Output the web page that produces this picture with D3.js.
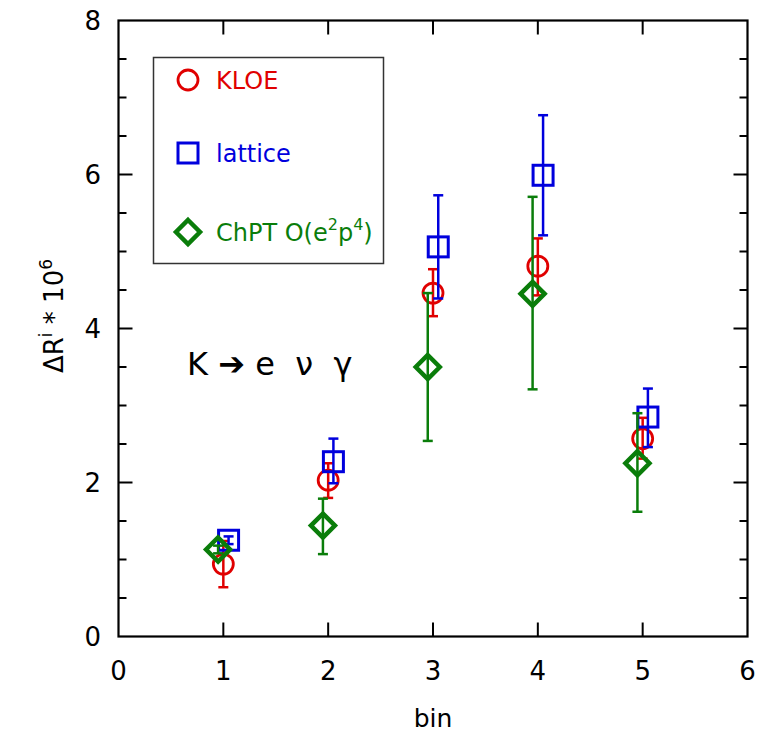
<!DOCTYPE html>
<html>
<head>
<meta charset="utf-8">
<style>
  body { margin: 0; background: #fff; }
  svg text { font-family: "DejaVu Sans", "Lucida Grande", sans-serif; }
</style>
</head>
<body>
<svg id="chart" width="767" height="735"></svg>
<script src="https://d3js.org/d3.v7.min.js"></script>
<script>
// data
var bins = [1, 2, 3, 4, 5];

var kloe      = [0.94, 2.03, 4.46, 4.81, 2.57];
var kloeLo    = [0.64, 1.80, 4.16, 4.43, 2.31];
var kloeHi    = [1.24, 2.25, 4.77, 5.17, 2.84];

var lattice   = [1.25, 2.27, 5.06, 5.99, 2.85];
var latticeLo = [1.20, 1.99, 4.39, 5.21, 2.46];
var latticeHi = [1.30, 2.57, 5.73, 6.77, 3.22];

var chpt      = [1.13, 1.44, 3.50, 4.45, 2.25];
var chptLo    = [1.08, 1.07, 2.54, 3.21, 1.62];
var chptHi    = [1.18, 1.79, 4.46, 5.71, 2.90];

var xTicks = [0, 1, 2, 3, 4, 5, 6];
var yTicks = [0, 2, 4, 6, 8];
var yMinor = d3.range(0, 8.01, 0.5);

var series = [
  {name: "KLOE",    color: "#e00000", shape: "circle",  dx: 0,     v: kloe,    lo: kloeLo,    hi: kloeHi},
  {name: "lattice", color: "#0000dd", shape: "square",  dx: 0.05,  v: lattice, lo: latticeLo, hi: latticeHi},
  {name: "ChPT",    color: "#0a7d0a", shape: "diamond", dx: -0.05, v: chpt,    lo: chptLo,    hi: chptHi}
];

var plotL = 118.5, plotR = 747.5, plotT = 20.5, plotB = 636.5;

var x = d3.scaleLinear().domain([0, 6]).range([plotL, plotR]);
var y = d3.scaleLinear().domain([0, 8]).range([plotB, plotT]);

var svg = d3.select("#chart");

// frame
svg.append("rect")
    .attr("x", plotL).attr("y", plotT)
    .attr("width", plotR - plotL).attr("height", plotB - plotT)
    .attr("fill", "none").attr("stroke", "#000").attr("stroke-width", 2.2);

// ticks on all sides, pointing in
var axes = svg.append("g").attr("stroke", "#000").attr("stroke-width", 2);
xTicks.slice(1, -1).forEach(function(t) {
  axes.append("line").attr("x1", x(t)).attr("x2", x(t)).attr("y1", plotB).attr("y2", plotB - 14);
  axes.append("line").attr("x1", x(t)).attr("x2", x(t)).attr("y1", plotT).attr("y2", plotT + 14);
});
yMinor.slice(1, -1).forEach(function(t) {
  var len = (t % 2 === 0) ? 14 : 8;
  axes.append("line").attr("x1", plotL).attr("x2", plotL + len).attr("y1", y(t)).attr("y2", y(t));
  axes.append("line").attr("x1", plotR).attr("x2", plotR - len).attr("y1", y(t)).attr("y2", y(t));
});

// tick labels
svg.selectAll(".xl").data(xTicks).enter().append("text")
    .attr("x", function(d) { return x(d); })
    .attr("y", 680)
    .attr("text-anchor", "middle")
    .style("font-size", "26px")
    .text(function(d) { return d; });

svg.selectAll(".yl").data(yTicks).enter().append("text")
    .attr("x", 101)
    .attr("y", function(d) { return y(d) + 9; })
    .attr("text-anchor", "end")
    .style("font-size", "26px")
    .text(function(d) { return d; });

// axis titles
svg.append("text")
    .attr("x", x(3)).attr("y", 727)
    .attr("text-anchor", "middle").style("font-size", "25px")
    .text("bin");

var yt = svg.append("text")
    .attr("transform", "translate(63,316) rotate(-90)")
    .attr("text-anchor", "middle").style("font-size", "26px");
yt.append("tspan").text("\u0394R");
yt.append("tspan").style("font-size", "17px").attr("dy", -11).text("i");
yt.append("tspan").attr("dy", 11).text(" * 10");
yt.append("tspan").style("font-size", "17px").attr("dy", -11).text("6");

// K -> e nu gamma
svg.append("text")
    .attr("x", 187).attr("y", 375)
    .style("font-size", "32px")
    .style("white-space", "pre")
    .text("K \u2794 e  \u03bd  \u03b3");

// markers
function drawMarker(g, shape, color, cx, cy) {
  if (shape === "circle") {
    g.append("circle").attr("cx", cx).attr("cy", cy).attr("r", 10)
      .attr("fill", "none").attr("stroke", color).attr("stroke-width", 2.8);
  } else if (shape === "square") {
    g.append("rect").attr("x", cx - 10).attr("y", cy - 10).attr("width", 20).attr("height", 20)
      .attr("fill", "none").attr("stroke", color).attr("stroke-width", 3);
  } else {
    var s = 12;
    g.append("path")
      .attr("d", "M" + cx + "," + (cy - s) + "L" + (cx + s) + "," + cy + "L" + cx + "," + (cy + s) + "L" + (cx - s) + "," + cy + "Z")
      .attr("fill", "none").attr("stroke", color).attr("stroke-width", 4.5);
  }
}

series.forEach(function(s) {
  var g = svg.append("g");
  bins.forEach(function(b, i) {
    var cx = x(b + s.dx);
    var y0 = y(s.lo[i]), y1 = y(s.hi[i]);
    g.append("line").attr("x1", cx).attr("x2", cx).attr("y1", y0).attr("y2", y1)
      .attr("stroke", s.color).attr("stroke-width", 2.5);
    [y0, y1].forEach(function(yy) {
      g.append("line").attr("x1", cx - 5).attr("x2", cx + 5).attr("y1", yy).attr("y2", yy)
        .attr("stroke", s.color).attr("stroke-width", 2.5);
    });
    drawMarker(g, s.shape, s.color, cx, y(s.v[i]));
  });
});

// legend
var leg = svg.append("g");
leg.append("rect").attr("x", 153.5).attr("y", 57.5).attr("width", 230).attr("height", 206)
  .attr("fill", "#fff").attr("stroke", "#333").attr("stroke-width", 1.5);
var legY = [80, 153, 232];
series.forEach(function(s, i) {
  drawMarker(leg, s.shape, s.color, 188, legY[i]);
  var t = leg.append("text").attr("x", 216).attr("y", legY[i] + 9)
    .style("font-size", "24px").attr("fill", s.color);
  if (s.shape === "diamond") {
    t.append("tspan").text("ChPT O(e");
    t.append("tspan").style("font-size", "16px").attr("dy", -11).text("2");
    t.append("tspan").attr("dy", 11).text("p");
    t.append("tspan").style("font-size", "16px").attr("dy", -11).text("4");
    t.append("tspan").attr("dy", 11).text(")");
  } else {
    t.text(s.name);
  }
});
</script>
</body>
</html>
